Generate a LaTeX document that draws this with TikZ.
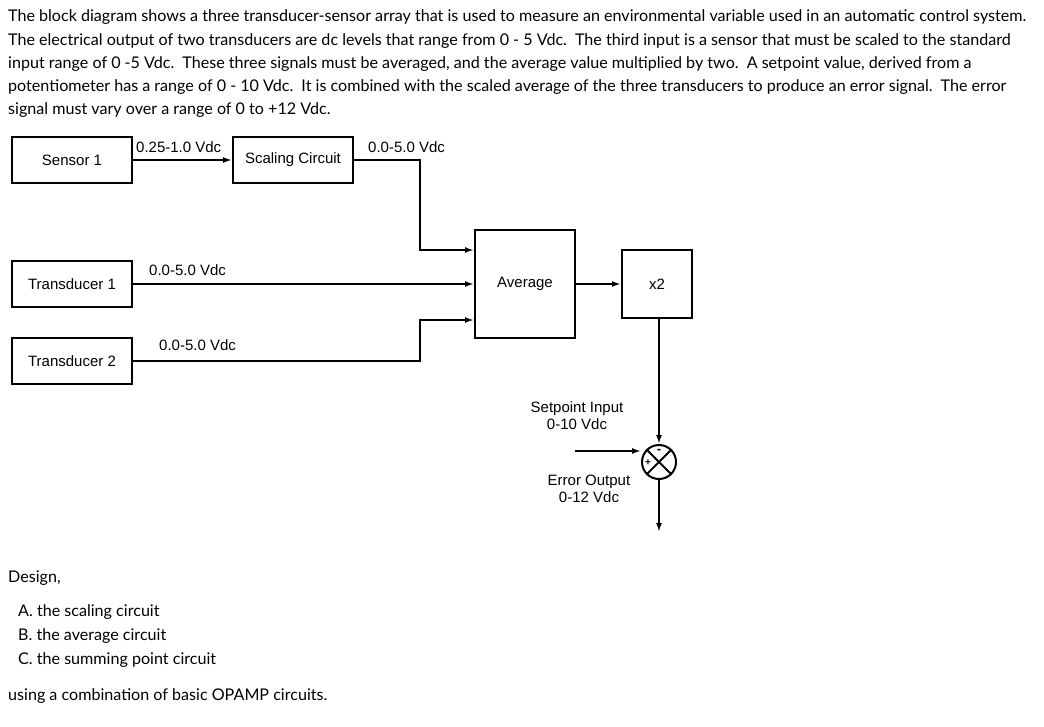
\documentclass[tikz,border=0pt]{standalone}
\usepackage{fontspec}
\setmainfont{Lato}
\newfontfamily\arialfont{Liberation Sans}
\usetikzlibrary{arrows.meta,positioning}

\begin{document}
\begin{tikzpicture}[x=1pt,y=-1pt,
  block/.style={draw,line width=2pt,minimum width=120pt,minimum height=46pt,font=\arialfont\fontsize{15}{17}\selectfont},
  lbl/.style={font=\arialfont\fontsize{15}{17}\selectfont,inner sep=0pt},
  txt/.style={anchor=west,inner sep=0pt,font=\fontsize{16.1}{19}\selectfont},
  sig/.style={line width=2pt,-{Latex[length=9pt,width=6pt]}}]
\useasboundingbox (0,0) rectangle (1044,726);

% problem text
\node[txt] (t1) at (8,17) {The block diagram shows a three transducer-sensor array that is used to measure an environmental variable used in an automatic control system.};
\node[txt] (t2) at (8,41) {The electrical output of two transducers are dc levels that range from 0 - 5 Vdc.\enspace The third input is a sensor that must be scaled to the standard};
\node[txt] (t3) at (8,64) {input range of 0 -5 Vdc.\enspace These three signals must be averaged, and the average value multiplied by two.\enspace A setpoint value, derived from a};
\node[txt] (t4) at (8,87) {potentiometer has a range of 0 - 10 Vdc.\enspace It is combined with the scaled average of the three transducers to produce an error signal.\enspace The error};
\node[txt] (t5) at (8,110) {signal must vary over a range of 0 to +12 Vdc.};

% blocks
\node[block] (sensor) at (72,160) {Sensor 1};
\node[block] (scale) at (293,160) {Scaling Circuit};
\node[block] (trans1) at (72,284) {Transducer 1};
\node[block] (trans2) at (72,361) {Transducer 2};
\node[block,minimum width=100pt,minimum height=108pt] (avg) at (525,284) {Average};
\node[block,minimum width=70pt,minimum height=68pt] (gain) at (657,284) {x2};
\node[draw,circle,line width=2pt,minimum size=34pt,inner sep=0pt] (sum) at (659,462) {};
\draw[line width=2pt] (sum.45) -- (sum.225) (sum.135) -- (sum.315);
\node[font=\arialfont\fontsize{13}{13}\selectfont\bfseries,inner sep=0pt] at (659,451) {-};
\node[font=\arialfont\fontsize{10}{10}\selectfont\bfseries,inner sep=0pt] at (648,463) {+};
\coordinate (setp) at (575,451);
\coordinate (out) at (659,532);

% connectors
\draw[sig] (sensor) -- (scale);
\draw[sig] (scale.east) -| (420,250) -- (avg.west |- 0,250);
\draw[sig] (trans1) -- (avg.west |- trans1);
\draw[sig] (trans2.east) -| (420,320) -- (avg.west |- 0,320);
\draw[sig] (avg) -- (gain);
\draw[sig] (gain.south -| sum) -- (sum.north);
\draw[sig] (setp) -- (sum.west |- setp);
\draw[sig] (sum) -- (out);

% signal labels
\node[lbl,anchor=west] at (136,147) {0.25-1.0 Vdc};
\node[lbl,anchor=west] at (368,147) {0.0-5.0 Vdc};
\node[lbl,anchor=west] at (149,270) {0.0-5.0 Vdc};
\node[lbl,anchor=west] at (159,345) {0.0-5.0 Vdc};
\node[lbl,align=center] at (577,416) {Setpoint Input\\0-10 Vdc};
\node[lbl,align=center] at (589,489) {Error Output\\0-12 Vdc};

% questions
\node[txt] (d0) at (8,578) {Design,};
\node[txt] (da) at (18,612) {A. the scaling circuit};
\node[txt] (db) at (18,636) {B. the average circuit};
\node[txt] (dc) at (18,660) {C. the summing point circuit};
\node[txt] (d1) at (8,696) {using a combination of basic OPAMP circuits.};
\end{tikzpicture}
\end{document}
